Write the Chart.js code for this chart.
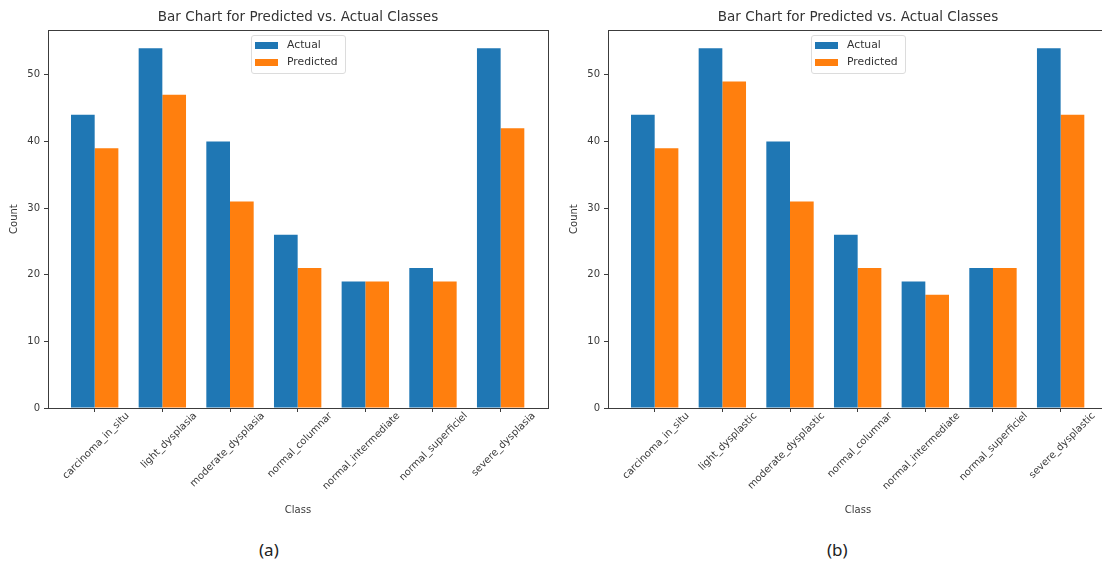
<!DOCTYPE html>
<html>
<head>
<meta charset="utf-8">
<script src="https://cdn.jsdelivr.net/npm/chart.js@4"></script>
<style>
  body { margin: 0; width: 1102px; height: 567px; overflow: hidden; background: #fff; font-family: "DejaVu Sans", sans-serif; position: relative; }
  .panel { position: absolute; top: 0; width: 552px; height: 520px; }
  .legend { position: absolute; top: 35px; width: 93px; height: 36px; padding-top: 1px; border: 1px solid #dcdcdc; border-radius: 3px; background: rgba(255,255,255,0.85); font-size: 10.8px; color: #333; }
  .legend div { height: 16.5px; line-height: 16.5px; position: relative; padding-left: 35px; }
  .legend span { position: absolute; left: 3px; top: 5px; width: 23px; height: 7px; }
  .caption { position: absolute; top: 538px; font-family: "Noto Sans", sans-serif; font-size: 17px; color: #222; }
</style>
</head>
<body>
<div class="panel" style="left:0"><canvas id="chartA"></canvas></div>
<div class="panel" style="left:560px"><canvas id="chartB"></canvas></div>

<div class="legend" style="left:251px"><div><span style="background:#1f77b4"></span>Actual</div><div><span style="background:#ff7f0e"></span>Predicted</div></div>
<div class="legend" style="left:811px"><div><span style="background:#1f77b4"></span>Actual</div><div><span style="background:#ff7f0e"></span>Predicted</div></div>

<div class="caption" style="left:259px">(a)</div>
<div class="caption" style="left:827px">(b)</div>

<script>
// data
const classesA = ['carcinoma_in_situ', 'light_dysplasia', 'moderate_dysplasia', 'normal_columnar',
                  'normal_intermediate', 'normal_superficiel', 'severe_dysplasia'];
const classesB = ['carcinoma_in_situ', 'light_dysplastic', 'moderate_dysplastic', 'normal_columnar',
                  'normal_intermediate', 'normal_superficiel', 'severe_dysplastic'];
const actualA    = [44, 54, 40, 26, 19, 21, 54];
const predictedA = [39, 47, 31, 21, 19, 19, 42];
const actualB    = [44, 54, 40, 26, 19, 21, 54];
const predictedB = [39, 49, 31, 21, 17, 21, 44];
const yTicks = [0, 10, 20, 30, 40, 50];

const BLUE = '#1f77b4';
const ORANGE = '#ff7f0e';
const TEXT = '#3a3a3a';
const FONT = 'DejaVu Sans';

// axes frame like matplotlib spines
const framePlugin = {
  id: 'frame',
  afterDatasetsDraw(chart) {
    const { ctx, chartArea: a } = chart;
    ctx.save();
    ctx.strokeStyle = '#3c3c3c';
    ctx.lineWidth = 1;
    ctx.strokeRect(Math.round(a.left) + 0.5, Math.round(a.top) + 0.5,
                   Math.round(a.right - a.left), Math.round(a.bottom - a.top));
    ctx.restore();
  }
};

function makeChart(id, classes, actual, predicted) {
  const ctx = document.getElementById(id).getContext('2d');
  return new Chart(ctx, {
    type: 'bar',
    data: {
      datasets: [
        { label: 'Actual', data: actual.map((v, i) => ({ x: i, y: v })), backgroundColor: BLUE },
        { label: 'Predicted', data: predicted.map((v, i) => ({ x: i, y: v })), backgroundColor: ORANGE }
      ]
    },
    options: {
      responsive: true,
      maintainAspectRatio: false,
      animation: false,
      categoryPercentage: 0.7,
      barPercentage: 1.0,
      borderWidth: 0,
      layout: { padding: { left: 0, right: 4, top: 0, bottom: 0 } },
      plugins: {
        legend: { display: false },
        tooltip: { enabled: false },
        title: {
          display: true,
          fullSize: false,
          text: 'Bar Chart for Predicted vs. Actual Classes',
          color: '#333',
          font: { family: FONT, size: 13.5, weight: 'normal' },
          padding: { top: 9, bottom: 5 }
        }
      },
      scales: {
        x: {
          type: 'linear',
          offset: false,
          min: -0.69,
          max: 6.70,
          border: { color: '#3c3c3c' },
          grid: { offset: false, drawOnChartArea: false, drawTicks: true, tickLength: 4, color: '#3c3c3c' },
          ticks: {
            stepSize: 1,
            includeBounds: false,
            autoSkip: false,
            minRotation: 45,
            maxRotation: 45,
            labelOffset: 33,
            padding: -2,
            color: TEXT,
            font: { family: FONT, size: 10 },
            callback: (v) => Number.isInteger(v) ? classes[v] : ''
          },
          title: { display: true, text: 'Class', color: TEXT, font: { family: FONT, size: 10 }, padding: 4 },
          afterFit: (s) => { s.height = 112; }
        },
        y: {
          min: 0,
          max: 56.7,
          border: { color: '#3c3c3c' },
          grid: { drawOnChartArea: false, drawTicks: true, tickLength: 4, color: '#3c3c3c' },
          ticks: {
            stepSize: 10,
            includeBounds: false,
            padding: 4,
            color: TEXT,
            font: { family: FONT, size: 10 },
            callback: (v) => yTicks.includes(v) ? String(v) : ''
          },
          title: { display: true, text: 'Count', color: TEXT, font: { family: FONT, size: 10 }, padding: 8 },
          afterFit: (s) => { s.width = 48; }
        }
      }
    },
    plugins: [framePlugin]
  });
}

makeChart('chartA', classesA, actualA, predictedA);
makeChart('chartB', classesB, actualB, predictedB);
</script>
</body>
</html>
